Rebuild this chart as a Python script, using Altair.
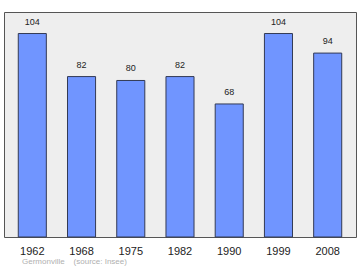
import altair as alt
import pandas as pd

years = ["1962", "1968", "1975", "1982", "1990", "1999", "2008"]
population = [104, 82, 80, 82, 68, 104, 94]

df = pd.DataFrame({"year": years, "pop": population})

x = alt.X("year:N", sort=years,
          scale=alt.Scale(paddingInner=0.43, paddingOuter=0.29),
          axis=alt.Axis(title=None, labelAngle=0, ticks=False, domain=False,
                        labelFontSize=11, labelColor="#222", labelPadding=8,
                        labelFont="Liberation Sans"))
y = alt.Y("pop:Q", scale=alt.Scale(domain=[0, 115], nice=False), axis=None)

bars = alt.Chart(df).mark_bar(color="#7095ff", stroke="#333a55", strokeWidth=1).encode(x=x, y=y)
labels = alt.Chart(df).mark_text(baseline="bottom", dy=-7, fontSize=9, color="#222",
                                 font="Liberation Sans").encode(x=x, y=y, text="pop:Q")

chart = (bars + labels).properties(
    width=352, height=225,
    autosize=alt.AutoSizeParams(type="none"),
    padding={"left": 4, "right": 4, "top": 12, "bottom": 33},
    title=alt.TitleParams("Germonville\u00a0\u00a0\u00a0\u00a0(source: Insee)", orient="bottom",
                          anchor="start", fontSize=8, color="#b0b0b0", fontWeight="normal",
                          font="Liberation Sans", dx=18, offset=2),
).configure_view(fill="#eeeeee", stroke="#555555", strokeWidth=1)

chart.save("out.html", embed_options={"renderer": "svg", "actions": False})
